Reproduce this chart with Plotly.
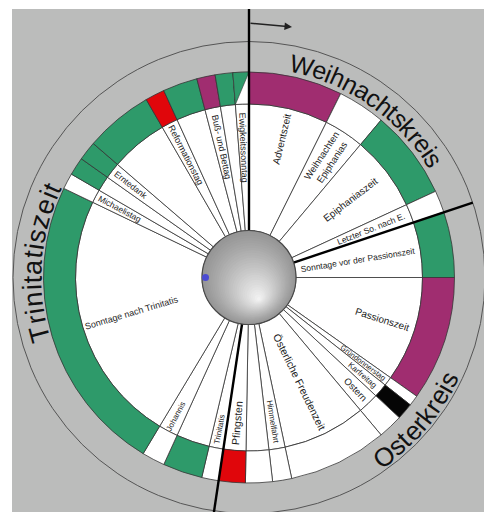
import numpy as np
import plotly.graph_objects as go

# ---------------- DATA ----------------
# Abschnitte des Kirchenjahres, im Uhrzeigersinn ab 1. Advent (oben)
abschnitte = ["Adventszeit", "Weihnachten<br>Epiphanias", "Epiphaniaszeit", "Letzter So. nach E.",
              "Sonntage vor der Passionszeit", "Passionszeit", "Gründonnerstag", "Karfreitag", "Ostern",
              "Österliche Freudenzeit", "Himmelfahrt", "", "Pfingsten", "Trinitatis", "", "Johannis",
              "Sonntage nach Trinitatis", "Michaelistag", "", "Erntedank", "", "Reformationstag", "",
              "Buß- und Bettag", "", "Ewigkeitssonntag"]
# Winkelanteil jedes Abschnitts (Grad)
spannen = [26.5, 13.5, 25.2, 6.3, 18.5, 35.3, 3.0, 4.7, 7.0, 28.0, 5.4, 7.6, 7.5,
           4.8, 11.2, 6.5, 84.7, 4.5, 5.1, 5.4, 19.3, 5.5, 9.8, 5.2, 5.0, 4.5]
# liturgische Farbe jedes Abschnitts
lit_farben = ["violett", "weiß", "grün", "weiß", "grün", "violett", "weiß", "schwarz", "weiß",
              "weiß", "weiß", "weiß", "rot", "weiß", "grün", "weiß", "grün", "weiß", "grün",
              "grün", "grün", "rot", "grün", "violett", "grün", "weiß/grün"]
# Festkreis, zu dem jeder Abschnitt gehört
kreis_von = ["Weihnachtskreis"] * 4 + ["Osterkreis"] * 9 + ["Trinitatiszeit"] * 13
kreise = ["Weihnachtskreis", "Osterkreis", "Trinitatiszeit"]

# ---------------- STYLE / GEOMETRY ----------------
W, H = 484, 512
CX, CY = 249.0, 277.5          # centre in pixels
HUB_R, RING_IN, RING_OUT, OUTER_R = 47.0, 173.5, 205.5, 236.0
RMAX = 220.0
FONT = "Liberation Sans"
GRAY = "#bbbcbb"
COL = {"violett": "#a02d70", "weiß": "#ffffff", "grün": "#2e9a6a",
       "rot": "#e0060b", "schwarz": "#050505", "weiß/grün": "#ffffff"}
LINE = "#363636"

label_r = {"Adventszeit": 142, "Weihnachten<br>Epiphanias": 142, "Epiphaniaszeit": 128,
           "Letzter So. nach E.": 131, "Sonntage vor der Passionszeit": 110, "Passionszeit": 140,
           "Gründonnerstag": 142, "Karfreitag": 150, "Ostern": 155, "Österliche Freudenzeit": 116,
           "Himmelfahrt": 146, "Pfingsten": 146, "Trinitatis": 155, "Johannis": 157,
           "Sonntage nach Trinitatis": 123, "Michaelistag": 146, "Erntedank": 150,
           "Reformationstag": 138, "Buß- und Bettag": 133, "Ewigkeitssonntag": 130}
label_fs = {"Adventszeit": 10, "Weihnachten<br>Epiphanias": 9.5, "Epiphaniaszeit": 10,
            "Letzter So. nach E.": 8.5, "Sonntage vor der Passionszeit": 8.5, "Passionszeit": 10,
            "Gründonnerstag": 7.5, "Karfreitag": 8, "Ostern": 9.5, "Österliche Freudenzeit": 10.5,
            "Himmelfahrt": 8, "Pfingsten": 10.5, "Trinitatis": 8, "Johannis": 8,
            "Sonntage nach Trinitatis": 9, "Michaelistag": 8.5, "Erntedank": 8.5,
            "Reformationstag": 9, "Buß- und Bettag": 9, "Ewigkeitssonntag": 9}
# curved circle titles: centre angle, angular span, radius, font size, clockwise?
kreis_style = {"Weihnachtskreis": (35.0, 48.4, 219, 25, True),
               "Osterkreis": (130.5, 30.3, 224, 26, False),
               "Trinitatiszeit": (274.1, 43.0, 216.5, 27, True)}
# how far each thick boundary line reaches outward
grenz_len = {"Weihnachtskreis": CY - 9, "Osterkreis": 236, "Trinitatiszeit": 250}

CHAR_W = {"W": .944, "e": .556, "i": .222, "h": .556, "n": .556, "a": .556, "c": .5, "t": .278,
          "s": .5, "k": .5, "r": .333, "O": .778, "T": .611, "z": .5}

# ---------------- derived ----------------
spannen = np.array(spannen)
starts = np.concatenate([[0], np.cumsum(spannen)[:-1]])
mitten = starts + spannen / 2


def px(theta, r):
    t = np.radians(theta)
    return CX + r * np.sin(t), CY - r * np.cos(t)


fig = go.Figure()

# label wedges (white)
fig.add_trace(go.Barpolar(theta=mitten, width=spannen, base=[HUB_R] * len(spannen),
                          r=[RING_IN - HUB_R] * len(spannen),
                          marker=dict(color="#ffffff", line=dict(color=LINE, width=0.8)),
                          hoverinfo="skip", showlegend=False))
# coloured ring
fig.add_trace(go.Barpolar(theta=mitten, width=spannen, base=[RING_IN] * len(spannen),
                          r=[RING_OUT - RING_IN] * len(spannen),
                          marker=dict(color=[COL[c] for c in lit_farben], line=dict(color=LINE, width=0.8)),
                          hoverinfo="skip", showlegend=False))
# split (white/green) field
for s, w, c in zip(starts, spannen, lit_farben):
    if c == "weiß/grün":
        fig.add_trace(go.Scatterpolar(theta=[s, s + w, s, s], r=[RING_OUT, RING_OUT, RING_IN, RING_OUT],
                                      mode="lines", fill="toself", fillcolor=COL["grün"],
                                      line=dict(color=LINE, width=0.6), hoverinfo="skip",
                                      showlegend=False))

# invisible pixel axes for overlays
fig.add_trace(go.Scatter(x=[0, W], y=[0, H], mode="markers", marker=dict(opacity=0),
                         hoverinfo="skip", showlegend=False))

shapes = []
# background
shapes.append(dict(type="rect", xref="x", yref="y", x0=12, x1=W, y0=9, y1=H,
                   fillcolor=GRAY, line=dict(width=0), layer="below"))
shapes.append(dict(type="circle", xref="x", yref="y", x0=CX - OUTER_R, x1=CX + OUTER_R,
                   y0=CY - OUTER_R, y1=CY + OUTER_R, line=dict(color="#555555", width=1),
                   fillcolor="rgba(0,0,0,0)", layer="below"))

# thick boundaries between the festival circles
for k in kreise:
    idx = kreis_von.index(k)
    th = starts[idx]
    x0, y0 = px(th, HUB_R)
    x1, y1 = px(th, grenz_len[k])
    shapes.append(dict(type="line", xref="x", yref="y", x0=x0, y0=y0, x1=x1, y1=y1,
                       line=dict(color="#000000", width=2.4), layer="above"))

# hub sphere with gradient
N = 28
hl = np.array([CX + 10, CY + 22])
c0 = np.array([CX, CY])
edge = np.array([150, 150, 150])
hi = np.array([246, 246, 246])
for k in range(N):
    t = k / N
    r = HUB_R * (1 - t)
    c = c0 + t * (hl - c0)
    col = edge + (hi - edge) * (t ** 1.1)
    shapes.append(dict(type="circle", xref="x", yref="y", x0=c[0] - r, x1=c[0] + r,
                       y0=c[1] - r, y1=c[1] + r,
                       fillcolor="rgb(%d,%d,%d)" % tuple(col.astype(int)),
                       line=dict(color="#4a4a4a" if k == 0 else "rgba(0,0,0,0)", width=1.2 if k == 0 else 0),
                       layer="above"))
# small blue dot on the hub
bx, by = px(270, HUB_R - 3.5)
shapes.append(dict(type="circle", xref="x", yref="y", x0=bx - 3.5, x1=bx + 3.5, y0=by - 3.5, y1=by + 3.5,
                   fillcolor="#4b4bd2", line=dict(width=0), layer="above"))

annotations = []
# direction arrow at the top
ax0, ay0 = px(0, CY - 23)
annotations.append(dict(x=ax0 + 43, y=ay0 + 4, ax=ax0, ay=ay0, xref="x", yref="y", axref="x", ayref="y",
                        showarrow=True, arrowhead=2, arrowsize=1, arrowwidth=1.5, arrowcolor="#222222",
                        text=""))

# segment labels
for name, th in zip(abschnitte, mitten):
    if not name:
        continue
    r = label_r[name]
    x, y = px(th, r)
    ang = th - 90 if th < 180 else th - 270
    annotations.append(dict(x=x, y=y, xref="x", yref="y", text=name, showarrow=False,
                            textangle=ang, xanchor="center", yanchor="middle",
                            font=dict(family=FONT, size=label_fs[name], color="#1c1c1c")))

# curved circle titles
for k in kreise:
    thc, span, r, fs, cw = kreis_style[k]
    widths = [CHAR_W.get(ch, .55) for ch in k]
    total = sum(widths)
    cum = 0.0
    for ch, w in zip(k, widths):
        frac = (cum + w / 2) / total - 0.5
        th = thc + frac * span if cw else thc - frac * span
        ang = th if cw else th - 180
        x, y = px(th, r)
        annotations.append(dict(x=x, y=y, xref="x", yref="y", text=ch, showarrow=False,
                                textangle=ang, xanchor="center", yanchor="middle",
                                font=dict(family=FONT, size=fs, color="#111111")))
        cum += w

fig.update_layout(
    width=W, height=H, margin=dict(l=0, r=0, t=0, b=0),
    paper_bgcolor="#ffffff", plot_bgcolor="rgba(0,0,0,0)",
    xaxis=dict(range=[0, W], visible=False, domain=[0, 1], fixedrange=True),
    yaxis=dict(range=[H, 0], visible=False, domain=[0, 1], fixedrange=True),
    polar=dict(domain=dict(x=[(CX - RMAX) / W, (CX + RMAX) / W],
                           y=[(H - CY - RMAX) / H, (H - CY + RMAX) / H]),
               bgcolor="rgba(0,0,0,0)",
               radialaxis=dict(range=[0, RMAX], visible=False, showgrid=False),
               angularaxis=dict(rotation=90, direction="clockwise", visible=False, showgrid=False)),
    shapes=shapes, annotations=annotations, showlegend=False,
)

fig.write_html("out.html", config={"displayModeBar": False, "staticPlot": True},
               post_script="document.body.style.margin='0';document.body.style.overflow='hidden';")
